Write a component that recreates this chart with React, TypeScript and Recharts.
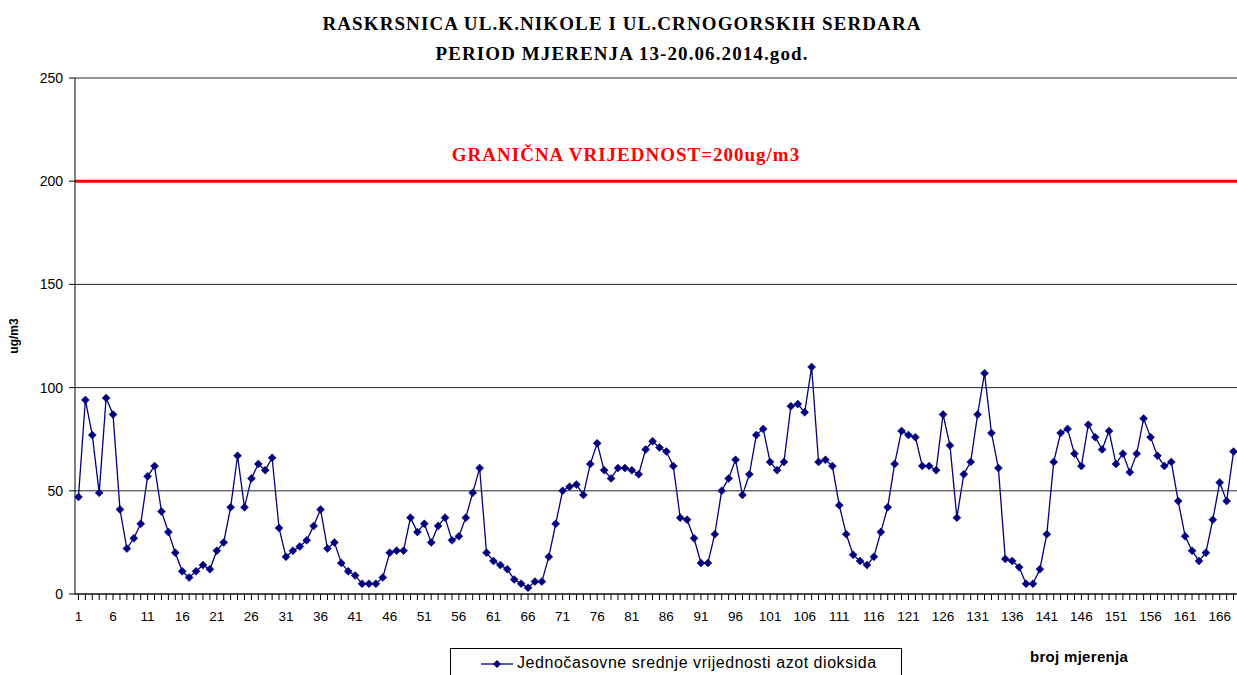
import React from 'react';
import { LineChart, Line, XAxis, YAxis, CartesianGrid, ReferenceLine } from 'recharts';

const titleLines = ['RASKRSNICA UL.K.NIKOLE I UL.CRNOGORSKIH SERDARA', 'PERIOD MJERENJA 13-20.06.2014.god.'];
const seriesName = 'Jednočasovne srednje vrijednosti azot dioksida';
const limitLabel = 'GRANIČNA VRIJEDNOST=200ug/m3';
const yAxisTitle = 'ug/m3';
const xAxisTitle = 'broj mjerenja';
const limitValue = 200;
const yTicks = [0, 50, 100, 150, 200, 250];

const no2Values = [
  47, 94, 77, 49, 95, 87, 41, 22, 27, 34,
  57, 62, 40, 30, 20, 11, 8, 11, 14, 12,
  21, 25, 42, 67, 42, 56, 63, 60, 66, 32,
  18, 21, 23, 26, 33, 41, 22, 25, 15, 11,
  9, 5, 5, 5, 8, 20, 21, 21, 37, 30,
  34, 25, 33, 37, 26, 28, 37, 49, 61, 20,
  16, 14, 12, 7, 5, 3, 6, 6, 18, 34,
  50, 52, 53, 48, 63, 73, 60, 56, 61, 61,
  60, 58, 70, 74, 71, 69, 62, 37, 36, 27,
  15, 15, 29, 50, 56, 65, 48, 58, 77, 80,
  64, 60, 64, 91, 92, 88, 110, 64, 65, 62,
  43, 29, 19, 16, 14, 18, 30, 42, 63, 79,
  77, 76, 62, 62, 60, 87, 72, 37, 58, 64,
  87, 107, 78, 61, 17, 16, 13, 5, 5, 12,
  29, 64, 78, 80, 68, 62, 82, 76, 70, 79,
  63, 68, 59, 68, 85, 76, 67, 62, 64, 45,
  28, 21, 16, 20, 36, 54, 45, 69,
];

const measurementNumbers = no2Values.map((_, i) => i + 1);
const chartData = measurementNumbers.map((n, i) => ({ n, v: no2Values[i] }));

const NAVY = '#000080';
const SANS = '"Liberation Sans", Arial, sans-serif';
const SERIF = '"Liberation Serif", "Times New Roman", serif';

const Diamond = (props: any) => {
  const { cx, cy, index } = props;
  if (cx == null || cy == null) return <g key={index} />;
  const r = 4;
  return (
    <path
      key={index}
      d={`M${cx},${cy - r}L${cx + r},${cy}L${cx},${cy + r}L${cx - r},${cy}Z`}
      fill={NAVY}
      stroke={NAVY}
      strokeWidth={0.5}
    />
  );
};

const XTick = (props: any) => {
  const { x, y, payload } = props;
  if ((payload.value - 1) % 5 !== 0) return <g />;
  return (
    <text x={x} y={y} dy={19} textAnchor="middle" fontSize={13.5} fontFamily={SANS} fill="#000">
      {payload.value}
    </text>
  );
};

const LimitLabel = (props: any) => {
  const vb = props.viewBox || {};
  return (
    <text
      x={vb.x + vb.width / 2 - 30}
      y={vb.y - 20}
      textAnchor="middle"
      fontSize={19}
      letterSpacing={1}
      fontWeight="bold"
      fontFamily={SERIF}
      fill="#ff0000"
    >
      {limitLabel}
    </text>
  );
};

const YTitle = (props: any) => {
  const vb = props.viewBox || {};
  const x = vb.x + 18;
  const y = vb.y + vb.height / 2;
  return (
    <text
      x={x}
      y={y}
      transform={`rotate(-90 ${x} ${y})`}
      textAnchor="middle"
      fontSize={12}
      fontWeight="bold"
      fontFamily={SANS}
      fill="#000"
    >
      {yAxisTitle}
    </text>
  );
};

export default function App() {
  return (
    <div style={{ position: 'absolute', left: 0, top: 0, width: 1237, height: 675, background: '#fff', overflow: 'hidden' }}>
      <div
        style={{
          position: 'absolute',
          left: 0,
          width: 1244,
          top: 9,
          textAlign: 'center',
          fontFamily: SERIF,
          fontWeight: 'bold',
          fontSize: 19,
          letterSpacing: 1.1,
          lineHeight: '30px',
          color: '#000',
        }}
      >
        <div>{titleLines[0]}</div>
        <div>{titleLines[1]}</div>
      </div>
      <LineChart
        width={1237}
        height={675}
        data={chartData}
        margin={{ top: 78, right: 0, left: 0, bottom: 51 }}
      >
        <CartesianGrid horizontal vertical={false} stroke="#000" strokeOpacity={0.85} />
        <XAxis
          dataKey="n"
          type="category"
          scale="band"
          interval={0}
          height={30}
          tick={<XTick />}
          tickSize={6}
          tickLine={{ stroke: '#000' }}
          axisLine={{ stroke: '#000' }}
        />
        <YAxis
          width={75}
          domain={[0, 250]}
          ticks={yTicks}
          interval={0}
          tickSize={6}
          tickMargin={6}
          tick={{ fontSize: 14, fontFamily: SANS, fill: '#000' }}
          tickLine={{ stroke: '#000' }}
          axisLine={{ stroke: '#000' }}
          label={{ content: <YTitle /> } as any}
        />
        <ReferenceLine y={limitValue} stroke="#ff0000" strokeWidth={3} label={<LimitLabel />} />
        <Line
          type="linear"
          dataKey="v"
          stroke={NAVY}
          strokeWidth={1.3}
          dot={Diamond}
          activeDot={false}
          isAnimationActive={false}
        />
      </LineChart>
      <div
        style={{
          position: 'absolute',
          left: 450,
          top: 648,
          width: 452,
          height: 40,
          border: '1px solid #000',
          boxSizing: 'border-box',
          background: '#fff',
        }}
      >
        <svg width={34} height={12} style={{ position: 'absolute', left: 30, top: 9 }}>
          <line x1={0} y1={6} x2={32} y2={6} stroke={NAVY} strokeWidth={1.3} />
          <path d="M16,2L20,6L16,10L12,6Z" fill={NAVY} />
        </svg>
        <div
          style={{
            position: 'absolute',
            left: 66,
            top: 5,
            fontFamily: SANS,
            fontSize: 16,
            letterSpacing: 0.55,
            color: '#000',
            whiteSpace: 'nowrap',
          }}
        >
          {seriesName}
        </div>
      </div>
      <div
        style={{
          position: 'absolute',
          left: 1030,
          top: 648,
          fontFamily: SANS,
          fontWeight: 'bold',
          fontSize: 15,
          letterSpacing: 0.3,
          color: '#000',
          whiteSpace: 'nowrap',
        }}
      >
        {xAxisTitle}
      </div>
    </div>
  );
}
